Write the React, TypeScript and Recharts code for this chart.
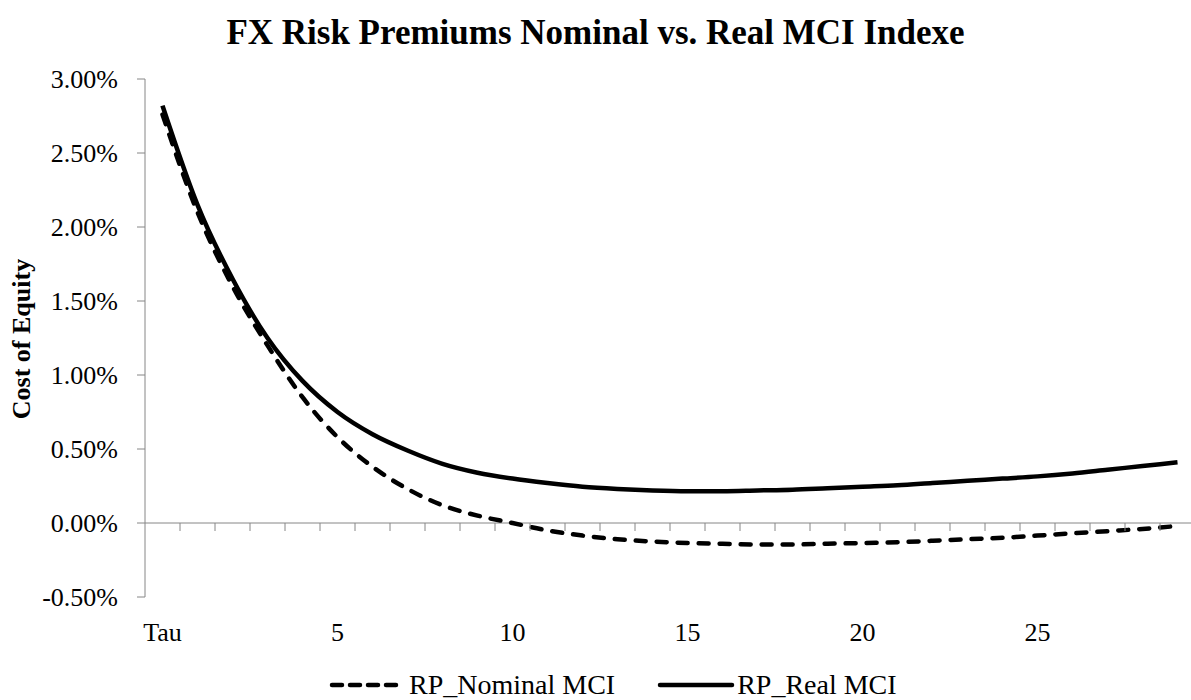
import React from "react";
import { LineChart, Line, XAxis, YAxis, ReferenceLine } from "recharts";

// category labels along the bottom
const CATEGORIES = [
  "Tau", "1", "2", "3", "4", "5", "6", "7", "8", "9",
  "10", "11", "12", "13", "14", "15", "16", "17", "18", "19",
  "20", "21", "22", "23", "24", "25", "26", "27", "28", "29",
];

// values in percent
const RP_NOMINAL = [
  2.76, 2.1, 1.6, 1.2, 0.85, 0.58, 0.38, 0.23, 0.12, 0.05,
  0.0, -0.05, -0.085, -0.11, -0.125, -0.135, -0.14, -0.145, -0.145, -0.14,
  -0.135, -0.13, -0.12, -0.11, -0.1, -0.085, -0.07, -0.055, -0.04, -0.02,
];

const RP_REAL = [
  2.82, 2.15, 1.65, 1.25, 0.96, 0.75, 0.6, 0.49, 0.4, 0.34,
  0.3, 0.27, 0.245, 0.23, 0.22, 0.215, 0.215, 0.22, 0.225, 0.235,
  0.245, 0.255, 0.27, 0.285, 0.3, 0.315, 0.335, 0.36, 0.385, 0.41,
];

const Y_TICKS = [-0.5, 0, 0.5, 1, 1.5, 2, 2.5, 3];

const data = CATEGORIES.map((tau, i) => ({
  tau,
  nominal: RP_NOMINAL[i],
  real: RP_REAL[i],
}));

const FONT = "Liberation Serif, Times New Roman, serif";
const AXIS = "#868686";

const WIDTH = 1200;
const HEIGHT = 700;
const PLOT_LEFT = 145;
const PLOT_TOP = 79;
const PLOT_BOTTOM = 597;
const PLOT_W = 1050;
const BAND = PLOT_W / CATEGORIES.length;
const Y_MIN = -0.5;
const Y_MAX = 3;
const ZERO_Y =
  PLOT_TOP + ((PLOT_BOTTOM - PLOT_TOP) * (Y_MAX - 0)) / (Y_MAX - Y_MIN);

function CategoryTick(props: any) {
  const { x, index, payload } = props;
  return (
    <g>
      {index < CATEGORIES.length - 1 && (
        <line
          x1={x + BAND / 2}
          x2={x + BAND / 2}
          y1={ZERO_Y}
          y2={ZERO_Y + 8}
          stroke={AXIS}
          strokeWidth={1}
        />
      )}
      {index % 5 === 0 && (
        <text
          x={x}
          y={641}
          textAnchor="middle"
          style={{ fontFamily: FONT, fontSize: 26, fill: "#000" }}
        >
          {payload.value}
        </text>
      )}
    </g>
  );
}

function ValueTick(props: any) {
  const { x, y, payload } = props;
  return (
    <text
      x={x}
      y={y}
      dy={9}
      textAnchor="end"
      style={{ fontFamily: FONT, fontSize: 26, fill: "#000" }}
    >
      {`${payload.value.toFixed(2)}%`}
    </text>
  );
}

const LEGEND = [
  { label: "RP_Nominal MCI", dash: "10 8" },
  { label: "RP_Real MCI", dash: undefined },
];

export default function App() {
  return (
    <div
      style={{
        position: "absolute",
        left: 0,
        top: 0,
        width: 1191,
        height: 700,
        overflow: "hidden",
        background: "#fff",
      }}
    >
      <div
        style={{
          position: "absolute",
          top: 12,
          left: 0,
          width: 1191,
          textAlign: "center",
          fontFamily: FONT,
          fontWeight: "bold",
          fontSize: 35,
          lineHeight: "42px",
          color: "#000",
        }}
      >
        FX Risk Premiums Nominal vs. Real MCI Indexe
      </div>
      <div
        style={{
          position: "absolute",
          left: 22,
          top: 339,
          transform: "translate(-50%, -50%) rotate(-90deg)",
          whiteSpace: "nowrap",
          fontFamily: FONT,
          fontWeight: "bold",
          fontSize: 26,
          color: "#000",
        }}
      >
        Cost of Equity
      </div>
      <div
        style={{
          position: "absolute",
          left: 329,
          top: 670,
          height: 30,
          display: "flex",
          alignItems: "center",
          gap: 42,
          fontFamily: FONT,
          fontSize: 28,
          color: "#000",
        }}
      >
        {LEGEND.map((it) => (
          <div key={it.label} style={{ display: "flex", alignItems: "center" }}>
            <svg width={78} height={12} style={{ marginRight: 2 }}>
              <line
                x1={3}
                x2={75}
                y1={6}
                y2={6}
                stroke="#000"
                strokeWidth={4.5}
                strokeLinecap="round"
                strokeDasharray={it.dash}
              />
            </svg>
            <span>{it.label}</span>
          </div>
        ))}
      </div>
      <LineChart
        width={WIDTH}
        height={HEIGHT}
        data={data}
        margin={{
          top: PLOT_TOP,
          right: WIDTH - PLOT_LEFT - PLOT_W,
          left: PLOT_LEFT - 120,
          bottom: 0,
        }}
      >
        <XAxis
          dataKey="tau"
          interval={0}
          axisLine={false}
          tickLine={false}
          height={HEIGHT - PLOT_BOTTOM}
          padding={{ left: BAND / 2, right: BAND / 2 }}
          tick={<CategoryTick />}
        />
        <YAxis
          width={120}
          domain={[Y_MIN, Y_MAX]}
          ticks={Y_TICKS}
          axisLine={{ stroke: AXIS }}
          tickLine={{ stroke: AXIS }}
          tickSize={8}
          tickMargin={19}
          tick={<ValueTick />}
          allowDataOverflow
        />
        <ReferenceLine y={0} stroke={AXIS} strokeWidth={1} />
        <Line
          type="monotone"
          dataKey="nominal"
          stroke="#000"
          strokeWidth={4.5}
          strokeDasharray="10 11"
          strokeLinecap="round"
          dot={false}
          isAnimationActive={false}
        />
        <Line
          type="monotone"
          dataKey="real"
          stroke="#000"
          strokeWidth={4.5}
          dot={false}
          isAnimationActive={false}
        />
      </LineChart>
    </div>
  );
}
